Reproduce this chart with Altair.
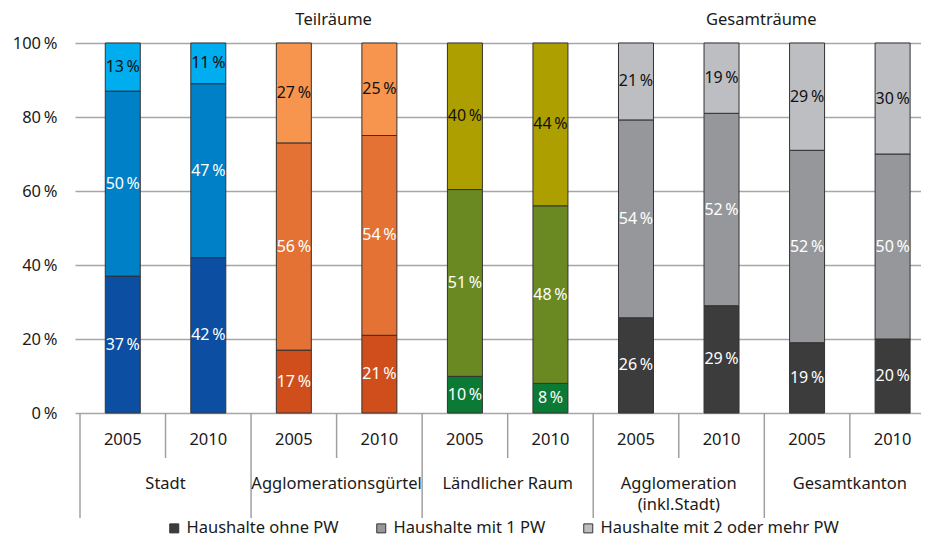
import altair as alt
import pandas as pd

groups = ["Stadt", "Agglomerationsgürtel", "Ländlicher Raum", "Agglomeration\n(inkl.Stadt)", "Gesamtkanton"]
years = ["2005", "2010"]
segments = ["Haushalte ohne PW", "Haushalte mit 1 PW", "Haushalte mit 2 oder mehr PW"]
ohne_pw = [37, 42, 17, 21, 10, 8, 26, 29, 19, 20]
mit_1_pw = [50, 47, 56, 54, 51, 48, 54, 52, 52, 50]
mit_2_pw = [13, 11, 27, 25, 40, 44, 21, 19, 29, 30]
group_colors = [
    ["#0b4ea2", "#0080c6", "#00adef"],
    ["#d04e1c", "#e37234", "#f7954f"],
    ["#0b7a35", "#6a8923", "#ae9f00"],
    ["#3c3c3c", "#96979b", "#bdbec2"],
    ["#3c3c3c", "#96979b", "#bdbec2"],
]
legend_colors = ["#3c3c3c", "#96979b", "#bdbec2"]
headers = ["Teilräume", "Gesamträume"]
header_groups = [(0, 3), (3, 5)]

series = [ohne_pw, mit_1_pw, mit_2_pw]
rows = []
for g, grp in enumerate(groups):
    for yi, yr in enumerate(years):
        pos = 2 * g + yi
        for s, seg in enumerate(segments):
            rows.append({"pos": pos, "group": grp, "year": yr, "seg": seg, "seg_idx": s,
                         "value": series[s][pos], "color": group_colors[g][s]})
df = pd.DataFrame(rows)

years_df = pd.DataFrame([{"pos": 2 * g + yi, "year": yr} for g in range(len(groups)) for yi, yr in enumerate(years)])
groups_df = pd.DataFrame([{"gx": 2 * g + 1, "group": grp} for g, grp in enumerate(groups)])
sep_rows = []
for g in range(len(groups)):
    sep_rows.append({"x": 2 * g, "kind": "long"})
    sep_rows.append({"x": 2 * g + 1, "kind": "short"})
sep_rows.append({"x": 2 * len(groups), "kind": "long"})
sep_df = pd.DataFrame(sep_rows)
head_df = pd.DataFrame([{"hx": (a * 2 + b * 2) / 2, "label": h} for h, (a, b) in zip(headers, header_groups)])

# layout: the original plot is wider than the window; show the visible part
W = 846
SLOT_PX = 86.56
xscale = alt.Scale(domain=[0, W / SLOT_PX], nice=False, zero=False)
yscale = alt.Scale(domain=[0, 1], nice=False)
TXT = "#1a1a1a"
FS = 16.5

base = alt.Chart(df).transform_stack(
    stack="value", groupby=["pos"], sort=[alt.SortField("seg_idx")], as_=["y0", "y1"], offset="normalize"
).transform_calculate(xc="datum.pos + 0.5", ymid="(datum.y0 + datum.y1) / 2",
                      label="datum.value + '\u2009%'")

bars = base.mark_bar(size=35, stroke="#333333", strokeWidth=1).encode(
    x=alt.X("xc:Q", scale=xscale, axis=None),
    y=alt.Y("y0:Q", scale=yscale, axis=alt.Axis(
        values=[0, 0.2, 0.4, 0.6, 0.8, 1.0],
        labelExpr="format(datum.value * 100, 'd') + '\u2009%'",
        grid=True, gridColor="#a6a6a6", gridWidth=1.5, domain=False, ticks=False,
        labelPadding=18, labelFontSize=FS, labelColor=TXT, title=None)),
    y2="y1:Q",
    color=alt.Color("color:N", scale=None),
)

labels = base.mark_text(fontSize=16, baseline="middle").encode(
    x=alt.X("xc:Q", scale=xscale),
    y=alt.Y("ymid:Q", scale=yscale),
    text="label:N",
    color=alt.when(alt.datum.seg_idx == 2).then(alt.value("#111111")).otherwise(alt.value("white")),
)

legend_layer = alt.Chart(df).mark_square(opacity=0, size=1).encode(
    x=alt.value(0), y=alt.value(0),
    color=alt.Color("seg:N", scale=alt.Scale(domain=segments, range=legend_colors),
                    legend=alt.Legend(orient="none", legendX=91, legendY=477, direction="horizontal",
                                      title=None, symbolType="square", symbolSize=81, symbolOpacity=1,
                                      symbolStrokeColor="#333333", symbolStrokeWidth=1,
                                      labelFontSize=FS, labelColor=TXT, labelOffset=4,
                                      columnPadding=34, padding=0, labelLimit=0)),
)

short_sep = alt.Chart(sep_df).transform_filter("datum.kind == 'short'").mark_rule(
    color="#a0a0a0", strokeWidth=1.5).encode(
    x=alt.X("x:Q", scale=xscale), y=alt.value(370), y2=alt.value(415))
long_sep = alt.Chart(sep_df).transform_filter("datum.kind == 'long'").mark_rule(
    color="#a0a0a0", strokeWidth=1.5).encode(
    x=alt.X("x:Q", scale=xscale), y=alt.value(370), y2=alt.value(475))

year_text = alt.Chart(years_df).transform_calculate(xc="datum.pos + 0.5").mark_text(
    fontSize=FS, baseline="middle", color=TXT).encode(
    x=alt.X("xc:Q", scale=xscale), y=alt.value(397), text="year:N")

group_text = alt.Chart(groups_df).mark_text(
    fontSize=FS, baseline="alphabetic", lineBreak="\n", lineHeight=21, color=TXT).encode(
    x=alt.X("gx:Q", scale=xscale), y=alt.value(446), text="group:N")

head_text = alt.Chart(head_df).mark_text(fontSize=FS, baseline="middle", color=TXT, dx=-3).encode(
    x=alt.X("hx:Q", scale=xscale), y=alt.value(-23), text="label:N")

chart = alt.layer(
    bars, labels, short_sep, long_sep, year_text, group_text, head_text, legend_layer
).resolve_scale(color="independent").properties(
    width=W, height=370,
    autosize=alt.AutoSizeParams(type="none"),
    padding={"left": 67, "top": 35, "right": 0, "bottom": 127},
).configure(font="Noto Sans").configure_view(stroke=None)

chart.save("out.html", embed_options={"renderer": "svg", "actions": False})
